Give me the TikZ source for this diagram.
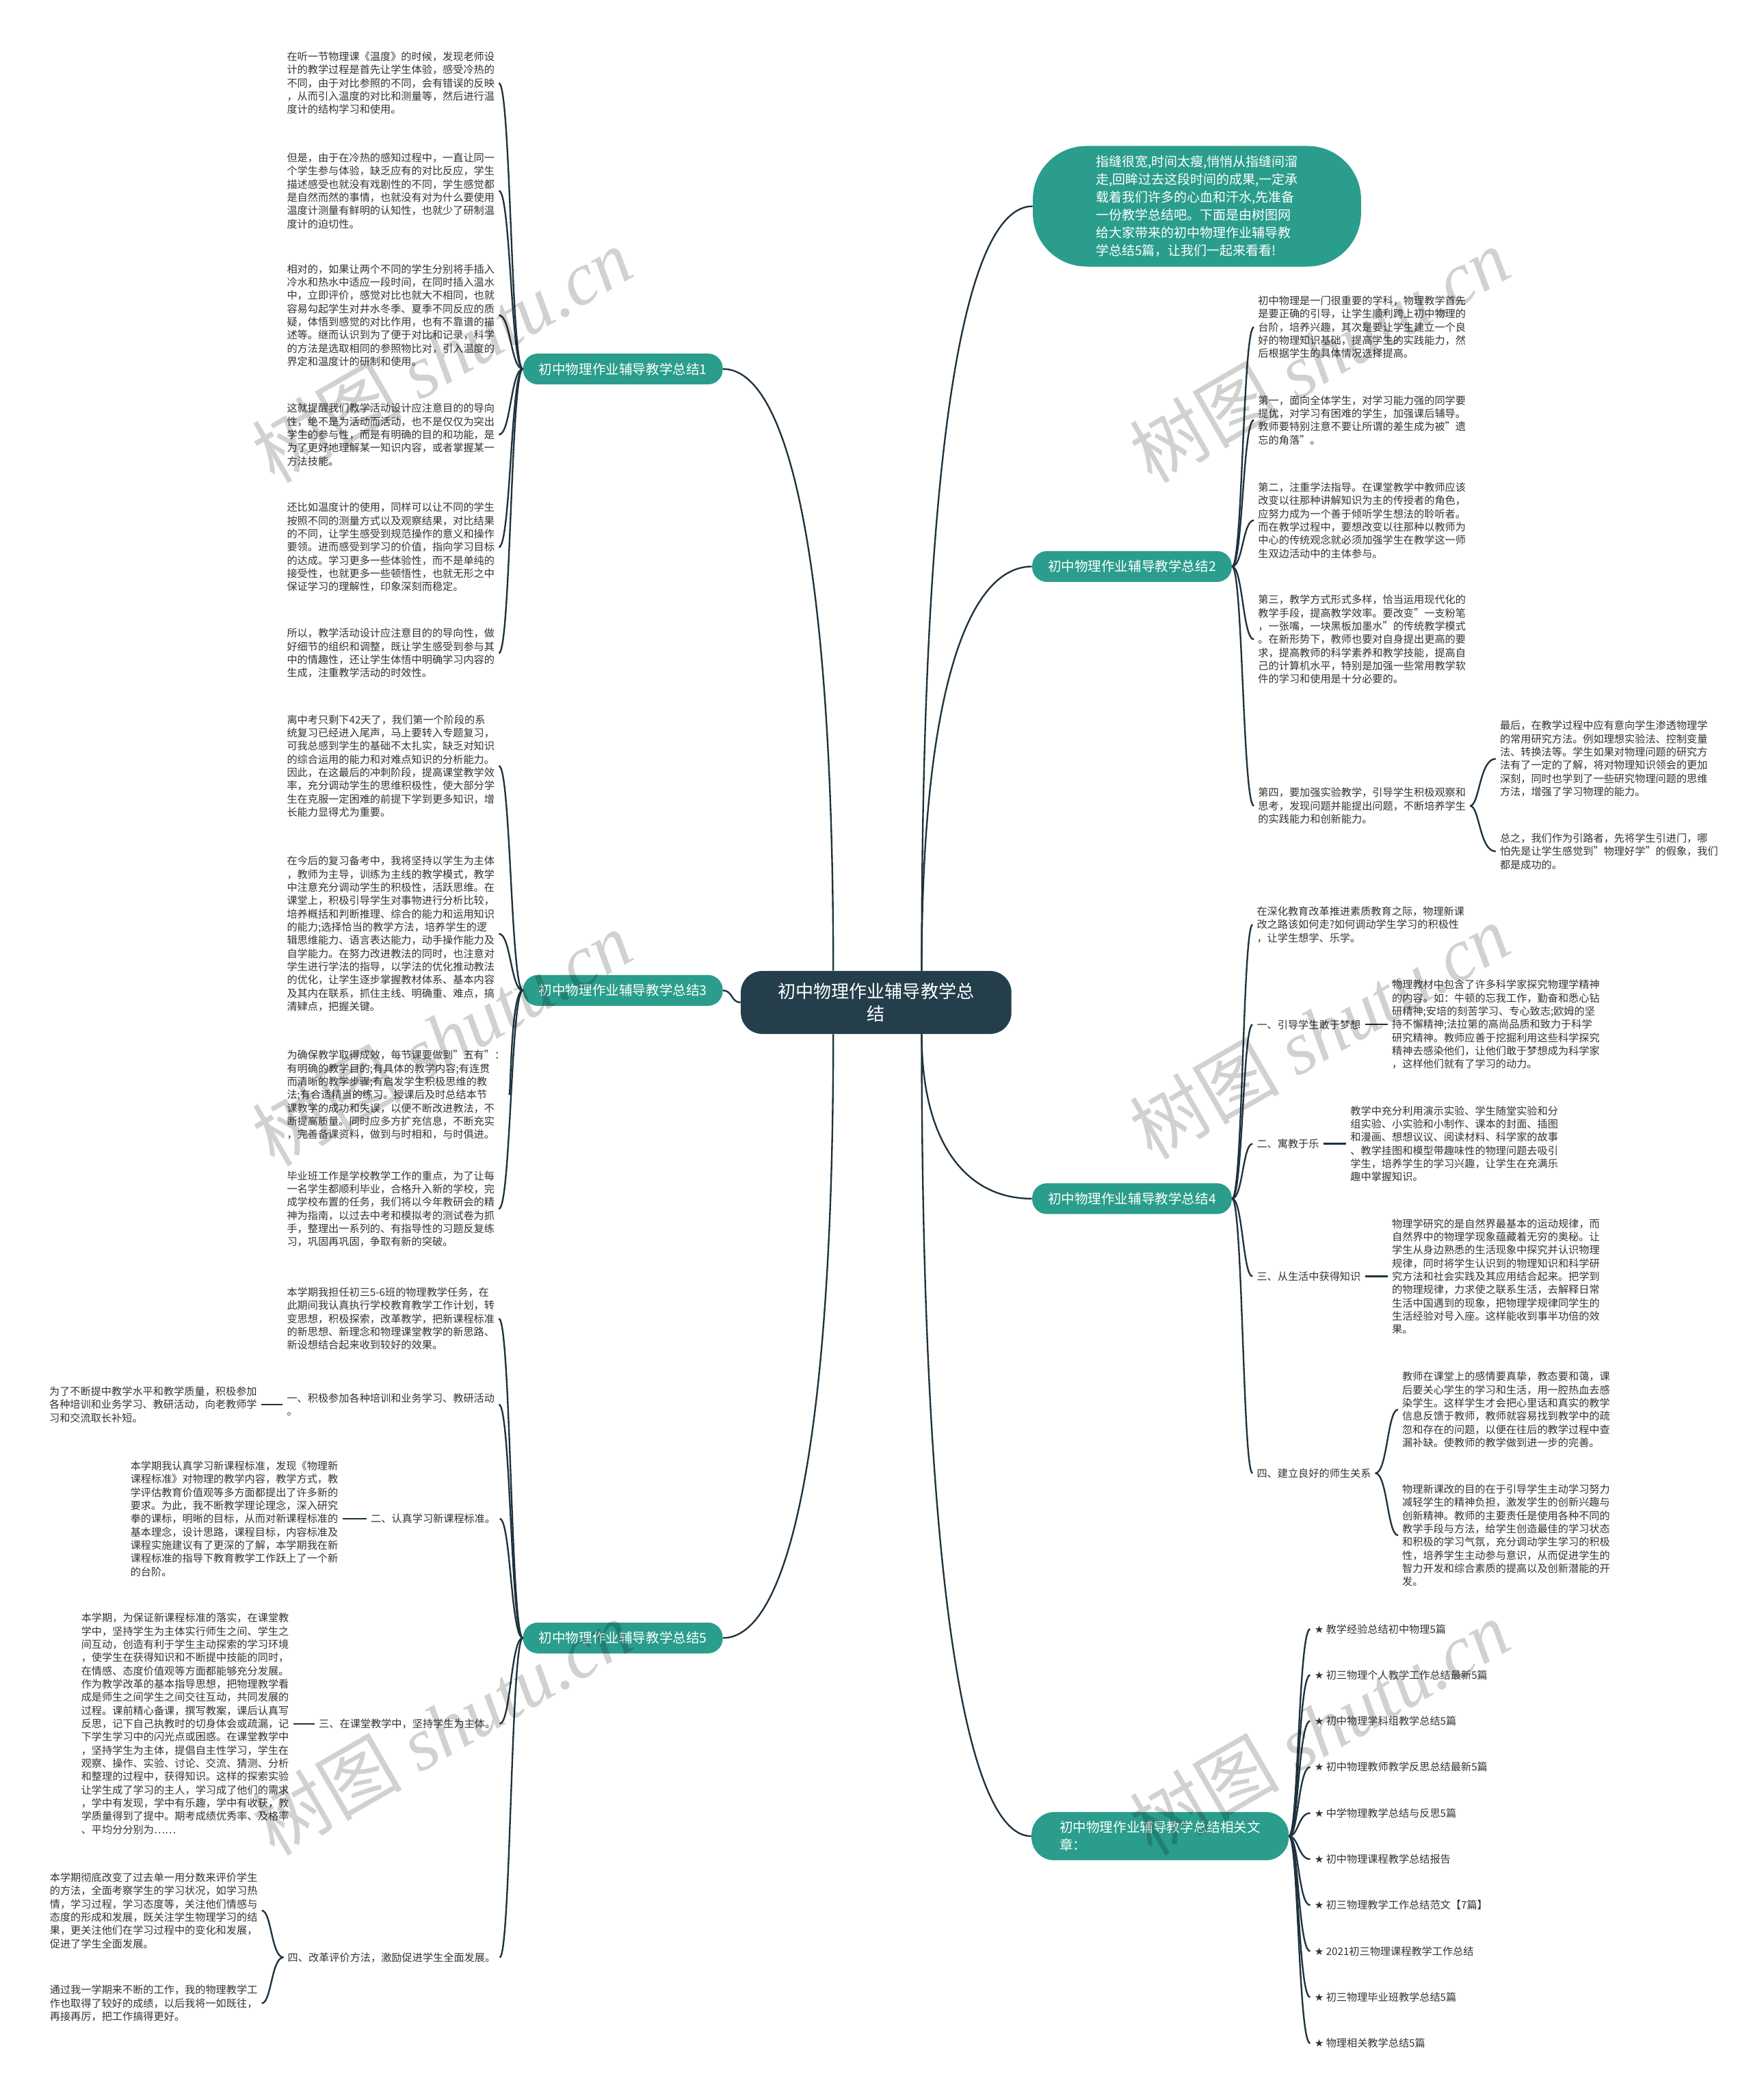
\documentclass[tikz,border=0pt]{standalone}
\usepackage{fontspec}
\setmainfont{Noto Sans CJK SC}
\newfontfamily\wmlatin{Liberation Serif}
\newfontfamily\symf{DejaVu Sans}
\usepackage{xcolor}
\usepackage{tikz}
\usetikzlibrary{positioning}

\definecolor{tealbox}{RGB}{42,157,140}
\definecolor{rootbox}{RGB}{36,62,76}
\definecolor{linkc}{RGB}{30,50,62}
\definecolor{txtc}{RGB}{51,51,51}

\begin{document}
\begin{tikzpicture}[x=1pt, y=-1pt,
    link/.style={draw=linkc, line width=1.2pt},
    para/.style={anchor=north west, align=left, text=txtc, inner xsep=3pt, inner ysep=0pt, font=\fontsize{7.75}{9.87}\selectfont},
    lbl/.style={text=txtc, inner xsep=3pt, inner ysep=0pt, font=\fontsize{7.75}{9.87}\selectfont},
    topic/.style={fill=tealbox, text=white, rounded corners=11pt, minimum width=149pt, minimum height=23pt, inner sep=0pt, font=\fontsize{10}{12}\selectfont},
    wm/.style={rotate=30, text=black, text opacity=0.18, font=\fontsize{56}{56}\selectfont}
  ]
  \fill[white] (0,0) rectangle (1307,1568);
  \useasboundingbox (0,0) rectangle (1307,1568);

  \node[fill=rootbox, text=white, rounded corners=16pt, minimum width=202pt, minimum height=47pt, align=center, font=\fontsize{13.3}{17}\selectfont] (root) at (654,748.5) {初中物理作业辅导教学总\\结};

  \node[fill=tealbox, text=white, rounded corners=40pt, minimum width=245pt, minimum height=90pt, align=left, font=\fontsize{9.7}{13.3}\selectfont] (intro) at (893.5,154) {指缝很宽,时间太瘦,悄悄从指缝间溜\\走,回眸过去这段时间的成果,一定承\\载着我们许多的心血和汗水,先准备\\一份教学总结吧。下面是由树图网\\给大家带来的初中物理作业辅导教\\学总结5篇，让我们一起来看看!};

  \node[topic] (s1) at (465,275.5) {初中物理作业辅导教学总结1};
  \node[topic] (s2) at (845,423) {初中物理作业辅导教学总结2};
  \node[topic] (s3) at (465,739.5) {初中物理作业辅导教学总结3};
  \node[topic] (s4) at (845,895) {初中物理作业辅导教学总结4};
  \node[topic] (s5) at (465,1223) {初中物理作业辅导教学总结5};
  \node[fill=tealbox, text=white, rounded corners=17pt, minimum width=192pt, minimum height=36pt, align=left, font=\fontsize{10}{13.5}\selectfont] (s6) at (866,1371) {初中物理作业辅导教学总结相关文\\章：};

  % summary 1
  \node[para] (p11) at (211,38.5) {在听一节物理课《温度》的时候，发现老师设\\计的教学过程是首先让学生体验，感受冷热的\\不同，由于对比参照的不同，会有错误的反映\\，从而引入温度的对比和测量等，然后进行温\\度计的结构学习和使用。};
  \node[para] (p12) at (211,114) {但是，由于在冷热的感知过程中，一直让同一\\个学生参与体验，缺乏应有的对比反应，学生\\描述感受也就没有戏剧性的不同，学生感觉都\\是自然而然的事情，也就没有对为什么要使用\\温度计测量有鲜明的认知性，也就少了研制温\\度计的迫切性。};
  \node[para] (p13) at (211,197) {相对的，如果让两个不同的学生分别将手插入\\冷水和热水中适应一段时间，在同时插入温水\\中，立即评价，感觉对比也就大不相同，也就\\容易勾起学生对井水冬季、夏季不同反应的质\\疑，体悟到感觉的对比作用，也有不靠谱的描\\述等。继而认识到为了便于对比和记录，科学\\的方法是选取相同的参照物比对，引入温度的\\界定和温度计的研制和使用。};
  \node[para] (p14) at (211,301) {这就提醒我们教学活动设计应注意目的的导向\\性，绝不是为活动而活动，也不是仅仅为突出\\学生的参与性，而是有明确的目的和功能，是\\为了更好地理解某一知识内容，或者掌握某一\\方法技能。};
  \node[para] (p15) at (211,375) {还比如温度计的使用，同样可以让不同的学生\\按照不同的测量方式以及观察结果，对比结果\\的不同，让学生感受到规范操作的意义和操作\\要领。进而感受到学习的价值，指向学习目标\\的达成。学习更多一些体验性，而不是单纯的\\接受性，也就更多一些顿悟性，也就无形之中\\保证学习的理解性，印象深刻而稳定。};
  \node[para] (p16) at (211,469) {所以，教学活动设计应注意目的的导向性，做\\好细节的组织和调整，既让学生感受到参与其\\中的情趣性，还让学生体悟中明确学习内容的\\生成，注重教学活动的时效性。};

  % summary 3
  \node[para] (p31) at (211,533.5) {离中考只剩下42天了，我们第一个阶段的系\\统复习已经进入尾声，马上要转入专题复习，\\可我总感到学生的基础不太扎实，缺乏对知识\\的综合运用的能力和对难点知识的分析能力。\\因此，在这最后的冲刺阶段，提高课堂教学效\\率，充分调动学生的思维积极性，使大部分学\\生在克服一定困难的前提下学到更多知识，增\\长能力显得尤为重要。};
  \node[para] (p32) at (211,639) {在今后的复习备考中，我将坚持以学生为主体\\，教师为主导，训练为主线的教学模式，教学\\中注意充分调动学生的积极性，活跃思维。在\\课堂上，积极引导学生对事物进行分析比较，\\培养概括和判断推理、综合的能力和运用知识\\的能力;选择恰当的教学方法，培养学生的逻\\辑思维能力、语言表达能力，动手操作能力及\\自学能力。在努力改进教法的同时，也注意对\\学生进行学法的指导，以学法的优化推动教法\\的优化，让学生逐步掌握教材体系、基本内容\\及其内在联系，抓住主线、明确重、难点，搞\\清肄点，把握关键。};
  \node[para] (p33) at (211,784) {为确保教学取得成效，每节课要做到"五有"：\\有明确的教学目的;有具体的教学内容;有连贯\\而清晰的教学步骤;有启发学生积极思维的教\\法;有合适精当的练习。授课后及时总结本节\\课教学的成功和失误，以便不断改进教法，不\\断提高质量。同时应多方扩充信息，不断充实\\，完善备课资料，做到与时相和，与时俱进。};
  \node[para] (p34) at (211,874) {毕业班工作是学校教学工作的重点，为了让每\\一名学生都顺利毕业，合格升入新的学校，完\\成学校布置的任务，我们将以今年教研会的精\\神为指南，以过去中考和模拟考的测试卷为抓\\手，整理出一系列的、有指导性的习题反复练\\习，巩固再巩固，争取有新的突破。};

  % summary 5
  \node[para] (p50) at (211,961) {本学期我担任初三5-6班的物理教学任务，在\\此期间我认真执行学校教育教学工作计划，转\\变思想，积极探索，改革教学，把新课程标准\\的新思想、新理念和物理课堂教学的新思路、\\新设想结合起来收到较好的效果。};
  \node[para] (q51) at (211,1040) {一、积极参加各种培训和业务学习、教研活动\\。};
  \node[para, left=16pt of q51] (p51) {为了不断提中教学水平和教学质量，积极参加\\各种培训和业务学习、教研活动，向老教师学\\习和交流取长补短。};
  \node[lbl, anchor=east] (q52) at (373,1134) {二、认真学习新课程标准。};
  \node[para, left=18pt of q52] (p52) {本学期我认真学习新课程标准，发现《物理新\\课程标准》对物理的教学内容，教学方式，教\\学评估教育价值观等多方面都提出了许多新的\\要求。为此，我不断教学理论理念，深入研究\\拳的课标，明晰的目标，从而对新课程标准的\\基本理念，设计思路，课程目标，内容标准及\\课程实施建议有了更深的了解，本学期我在新\\课程标准的指导下教育教学工作跃上了一个新\\的台阶。};
  \node[lbl, anchor=east] (q53) at (373,1287) {三、在课堂教学中，坚持学生为主体。};
  \node[para, left=16pt of q53] (p53) {本学期，为保证新课程标准的落实，在课堂教\\学中，坚持学生为主体实行师生之间、学生之\\间互动，创造有利于学生主动探索的学习环境\\，使学生在获得知识和不断提中技能的同时，\\在情感、态度价值观等方面都能够充分发展。\\作为教学改革的基本指导思想，把物理教学看\\成是师生之间学生之间交往互动，共同发展的\\过程。课前精心备课，撰写教案，课后认真写\\反思，记下自己执教时的切身体会或疏漏，记\\下学生学习中的闪光点或困惑。在课堂教学中\\，坚持学生为主体，提倡自主性学习，学生在\\观察、操作、实验、讨论、交流、猜测、分析\\和整理的过程中，获得知识。这样的探索实验\\让学生成了学习的主人，学习成了他们的需求\\，学中有发现，学中有乐趣，学中有收获，教\\学质量得到了提中。期考成绩优秀率、及格率\\、平均分分别为……};
  \node[lbl, anchor=east] (q54) at (373,1461.5) {四、改革评价方法，激励促进学生全面发展。};
  \node[para] (p541) at (34,1398) {本学期彻底改变了过去单一用分数来评价学生\\的方法，全面考察学生的学习状况，如学习热\\情，学习过程，学习态度等，关注他们情感与\\态度的形成和发展，既关注学生物理学习的结\\果，更关注他们在学习过程中的变化和发展，\\促进了学生全面发展。};
  \node[para] (p542) at (34,1482) {通过我一学期来不断的工作，我的物理教学工\\作也取得了较好的成绩，以后我将一如既往，\\再接再厉，把工作搞得更好。};

  % summary 2
  \node[para] (p21) at (936,220.7) {初中物理是一门很重要的学科，物理教学首先\\是要正确的引导，让学生顺利跨上初中物理的\\台阶，培养兴趣，其次是要让学生建立一个良\\好的物理知识基础，提高学生的实践能力，然\\后根据学生的具体情况选择提高。};
  \node[para] (p22) at (936,295) {第一，面向全体学生，对学习能力强的同学要\\提优，对学习有困难的学生，加强课后辅导。\\教师要特别注意不要让所谓的差生成为被"遗\\忘的角落"。};
  \node[para] (p23) at (936,360) {第二，注重学法指导。在课堂教学中教师应该\\改变以往那种讲解知识为主的传授者的角色，\\应努力成为一个善于倾听学生想法的聆听者。\\而在教学过程中，要想改变以往那种以教师为\\中心的传统观念就必须加强学生在教学这一师\\生双边活动中的主体参与。};
  \node[para] (p24) at (936,444) {第三，教学方式形式多样，恰当运用现代化的\\教学手段，提高教学效率。要改变"一支粉笔\\，一张嘴，一块黑板加墨水"的传统教学模式\\。在新形势下，教师也要对自身提出更高的要\\求，提高教师的科学素养和教学技能，提高自\\己的计算机水平，特别是加强一些常用教学软\\件的学习和使用是十分必要的。};
  \node[para] (p25) at (936,588) {第四，要加强实验教学，引导学生积极观察和\\思考，发现问题并能提出问题，不断培养学生\\的实践能力和创新能力。};
  \node[para] (p251) at (1116.5,538) {最后，在教学过程中应有意向学生渗透物理学\\的常用研究方法。例如理想实验法、控制变量\\法、转换法等。学生如果对物理问题的研究方\\法有了一定的了解，将对物理知识领会的更加\\深刻，同时也学到了一些研究物理问题的思维\\方法，增强了学习物理的能力。};
  \node[para] (p252) at (1116.5,622) {总之，我们作为引路者，先将学生引进门，哪\\怕先是让学生感觉到"物理好学"的假象，我们\\都是成功的。};

  % summary 4
  \node[para] (p41) at (935,676.6) {在深化教育改革推进素质教育之际，物理新课\\改之路该如何走?如何调动学生学习的积极性\\，让学生想学、乐学。};
  \node[lbl, anchor=west] (q41) at (935,765) {一、引导学生敢于梦想};
  \node[para, right=17pt of q41] (p411) {物理教材中包含了许多科学家探究物理学精神\\的内容。如：牛顿的忘我工作，勤奋和悉心钻\\研精神;安培的刻苦学习、专心致志;欧姆的坚\\持不懈精神;法拉第的高尚品质和致力于科学\\研究精神。教师应善于挖掘利用这些科学探究\\精神去感染他们，让他们敢于梦想成为科学家\\，这样他们就有了学习的动力。};
  \node[lbl, anchor=west] (q42) at (935,854) {二、寓教于乐};
  \node[para, right=17pt of q42] (p421) {教学中充分利用演示实验、学生随堂实验和分\\组实验、小实验和小制作、课本的封面、插图\\和漫画、想想议议、阅读材料、科学家的故事\\、教学挂图和模型带趣味性的物理问题去吸引\\学生，培养学生的学习兴趣，让学生在充满乐\\趣中掌握知识。};
  \node[lbl, anchor=west] (q43) at (935,953) {三、从生活中获得知识};
  \node[para, right=17pt of q43] (p431) {物理学研究的是自然界最基本的运动规律，而\\自然界中的物理学现象蕴藏着无穷的奥秘。让\\学生从身边熟悉的生活现象中探究并认识物理\\规律，同时将学生认识到的物理知识和科学研\\究方法和社会实践及其应用结合起来。把学到\\的物理规律，力求使之联系生活，去解释日常\\生活中国遇到的现象，把物理学规律同学生的\\生活经验对号入座。这样能收到事半功倍的效\\果。};
  \node[lbl, anchor=west] (q44) at (935,1100) {四、建立良好的师生关系};
  \node[para] (p441) at (1043.6,1024) {教师在课堂上的感情要真挚，教态要和蔼，课\\后要关心学生的学习和生活，用一腔热血去感\\染学生。这样学生才会把心里话和真实的教学\\信息反馈于教师，教师就容易找到教学中的疏\\忽和存在的问题，以便在往后的教学过程中查\\漏补缺。使教师的教学做到进一步的完善。};
  \node[para] (p442) at (1043.6,1108) {物理新课改的目的在于引导学生主动学习努力\\减轻学生的精神负担，激发学生的创新兴趣与\\创新精神。教师的主要责任是使用各种不同的\\教学手段与方法，给学生创造最佳的学习状态\\和积极的学习气氛，充分调动学生学习的积极\\性，培养学生主动参与意识，从而促进学生的\\智力开发和综合素质的提高以及创新潜能的开\\发。};

  % related articles
  \foreach \t [count=\i] in {教学经验总结初中物理5篇, 初三物理个人教学工作总结最新5篇, 初中物理学科组教学总结5篇, 初中物理教师教学反思总结最新5篇, 中学物理教学总结与反思5篇, 初中物理课程教学总结报告, 初三物理教学工作总结范文【7篇】, 2021初三物理课程教学工作总结, 初三物理毕业班教学总结5篇, 物理相关教学总结5篇}
    \node[lbl, anchor=west] (r\i) at (978,{1216.3+34.37*(\i-1)}) {{\symf ★} \t};

  % connectors
  \coordinate (rtl) at ([xshift=-32pt]root.north);
  \coordinate (rtr) at ([xshift=34pt]root.north);
  \coordinate (rbl) at ([xshift=-32pt]root.south);
  \coordinate (rbr) at ([xshift=34pt]root.south);
  \draw[link] (rtl) .. controls +(0,-300) and +(50,0) .. (s1.east);
  \draw[link] (root.west) .. controls +(-7,0) and +(7,0) .. (s3.east);
  \draw[link] (rbl) .. controls +(0,300) and +(50,0) .. (s5.east);
  \draw[link] (rtr) .. controls +(0,-400) and +(-50,0) .. (intro.west);
  \draw[link] (rtr) .. controls +(0,-200) and +(-50,0) .. (s2.west);
  \draw[link] (rbr) .. controls +(0,80) and +(-50,0) .. (s4.west);
  \draw[link] (rbr) .. controls +(0,400) and +(-50,0) .. (s6.west);

  \coordinate (k1) at ([xshift=-9pt]s1.west);
  \coordinate (k3) at ([xshift=-9pt]s3.west);
  \coordinate (k5) at ([xshift=-9pt]s5.west);
  \coordinate (k54) at ([xshift=-9pt]q54.west);
  \coordinate (k2) at ([xshift=8pt]s2.east);
  \coordinate (k25) at ([xshift=7pt]p25.east);
  \coordinate (k4) at ([xshift=8pt]s4.east);
  \coordinate (k44) at ([xshift=9pt]q44.east);
  \coordinate (k6) at ([xshift=7pt]s6.east);

  \foreach \n in {p11,p12,p13,p14,p15,p16}
    \draw[link] (s1.west) .. controls (k1) and (k1 |- \n.east) .. (\n.east);
  \foreach \n in {p31,p32,p33,p34}
    \draw[link] (s3.west) .. controls (k3) and (k3 |- \n.east) .. (\n.east);
  \foreach \n in {p50,q51,q52,q53,q54}
    \draw[link] (s5.west) .. controls (k5) and (k5 |- \n.east) .. (\n.east);
  \foreach \n in {p541,p542}
    \draw[link] (q54.west) .. controls (k54) and (k54 |- \n.east) .. (\n.east);
  \draw[link] (q51.west) -- (p51.east);
  \draw[link] (q52.west) -- (p52.east);
  \draw[link] (q53.west) -- (p53.east);

  \foreach \n in {p21,p22,p23,p24,p25}
    \draw[link] (s2.east) .. controls (k2) and (k2 |- \n.west) .. (\n.west);
  \foreach \n in {p251,p252}
    \draw[link] (p25.east) .. controls (k25) and (k25 |- \n.west) .. (\n.west);
  \foreach \n in {p41,q41,q42,q43,q44}
    \draw[link] (s4.east) .. controls (k4) and (k4 |- \n.west) .. (\n.west);
  \foreach \n in {p441,p442}
    \draw[link] (q44.east) .. controls (k44) and (k44 |- \n.west) .. (\n.west);
  \draw[link] (q41.east) -- (p411.west);
  \draw[link] (q42.east) -- (p421.west);
  \draw[link] (q43.east) -- (p431.west);
  \foreach \i in {1,...,10}
    \draw[link] (s6.east) .. controls (k6) and (k6 |- r\i.west) .. (r\i.west);

  % watermark
  \foreach \p [count=\i] in {(330,265),(985,265),(330,775),(985,770),(330,1290),(985,1290)}
    \node[wm] (w\i) at \p {树图 {\wmlatin\itshape shutu.cn}};
\end{tikzpicture}
\end{document}
